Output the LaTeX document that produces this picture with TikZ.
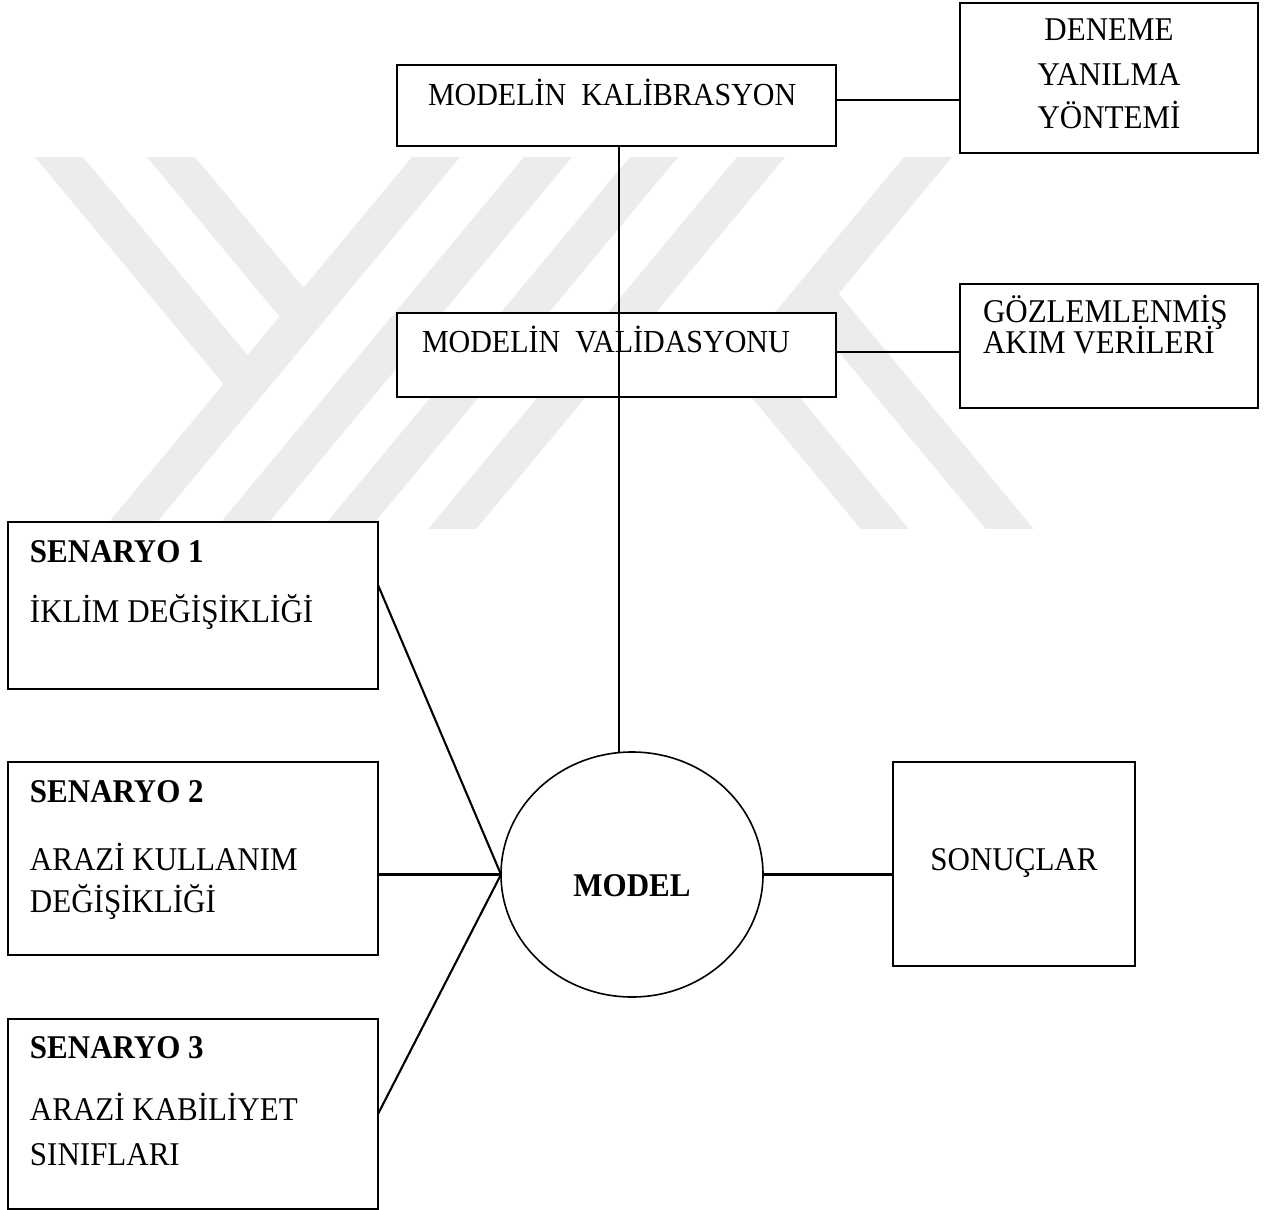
\documentclass[tikz,border=0pt]{standalone}
\usepackage{fontspec}
\usepackage{graphicx}
\setmainfont{Liberation Serif}
\usetikzlibrary{shapes.geometric}
\definecolor{wmgray}{RGB}{236,236,236}
\newcommand\tallt[1]{\scalebox{1}[1.07]{#1}}
\begin{document}
\begin{tikzpicture}[x=1pt,y=-1pt,
  box/.style={draw, fill=white, line width=2.1pt, inner sep=0pt, outer sep=0pt},
  lbl/.style={inner sep=0pt, outer sep=0pt, font=\fontsize{31}{37}\selectfont},
  blbl/.style={inner sep=0pt, outer sep=0pt, font=\fontsize{31}{37}\selectfont\bfseries},
  conn/.style={line width=2.1pt},
  wm/.style={line width=37pt, draw=wmgray, line join=miter}]
\useasboundingbox (0,0) rectangle (1278,1210);
% watermark
\begin{scope}
\clip (0,157) rectangle (1278,528);
\draw[wm] (460.9,127) -- (103.2,558);
\draw[wm] (572.9,127) -- (215.2,558);
\draw[wm] (678.9,127) -- (321.2,558);
\draw[wm] (785.9,127) -- (428.2,558);
\draw[wm] (34.1,127) -- (247.5,384.1);
\draw[wm] (146.1,127) -- (303.5,316.6);
\draw[wm] (952.9,127) -- (752,369) -- (908.9,558);
\draw[wm] (814.5,293.7) -- (1033.9,558);
\end{scope}
% boxes
\node[box, minimum width=439pt, minimum height=81pt] (kal) at (616.5,105.5) {};
\node[box, minimum width=298pt, minimum height=150pt] (den) at (1109,78) {};
\node[box, minimum width=439pt, minimum height=84pt] (val) at (616.5,355) {};
\node[box, minimum width=298pt, minimum height=124pt] (goz) at (1109,346) {};
\node[box, minimum width=370pt, minimum height=167pt] (sen1) at (193,605.5) {};
\node[box, minimum width=370pt, minimum height=193pt] (sen2) at (193,858.5) {};
\node[box, minimum width=370pt, minimum height=190pt] (sen3) at (193,1114) {};
\node[box, ellipse, line width=1.6pt, minimum width=262pt, minimum height=245pt] (mod) at (632,874.5) {};
\node[box, minimum width=242pt, minimum height=204pt] (son) at (1014,864) {};
% connectors
\draw[conn] ([yshift=5.5pt]kal.east) coordinate (k1) -- (k1 -| den.west);
\draw[conn] ([yshift=3pt]val.east) coordinate (v2) -- (v2 -| goz.west);
\draw[conn] ([xshift=2.5pt]kal.south) coordinate (v1) -- (v1 |- mod.north);
\draw[conn] ([yshift=20.5pt]sen1.east) -- (mod.west);
\draw[conn] (sen2.east |- mod.west) -- (mod.west);
\draw[conn] (sen3.east) -- (mod.west);
\draw[conn] (mod.east) -- (mod.east -| son.west);
% texts
\node[lbl, anchor=base west, font=\fontsize{30}{36}\selectfont] (kalt) at (428,105) {\tallt{MODELİN\ \ KALİBRASYON}};
\node[lbl, anchor=base west, font=\fontsize{30}{36}\selectfont] (valt) at (422,352) {\tallt{MODELİN\ \ VALİDASYONU}};
\node[lbl, anchor=base] (dent1) at (1109,40) {\tallt{DENEME}};
\node[lbl, anchor=base] (dent2) at (1109,85) {\tallt{YANILMA}};
\node[lbl, anchor=base] (dent3) at (1109,128) {\tallt{YÖNTEMİ}};
\node[lbl, anchor=base west] (gozt1) at (983,322) {\tallt{GÖZLEMLENMİŞ}};
\node[lbl, anchor=base west] (gozt2) at (983,353) {\tallt{AKIM VERİLERİ}};
\node[blbl, anchor=base west] (sen1a) at (30,562) {\tallt{SENARYO 1}};
\node[lbl, anchor=base west] (sen1b) at (30,622) {\tallt{İKLİM DEĞİŞİKLİĞİ}};
\node[blbl, anchor=base west] (sen2a) at (30,802) {\tallt{SENARYO 2}};
\node[lbl, anchor=base west] (sen2b) at (30,870) {\tallt{ARAZİ KULLANIM}};
\node[lbl, anchor=base west] (sen2c) at (30,912) {\tallt{DEĞİŞİKLİĞİ}};
\node[blbl, anchor=base west] (sen3a) at (30,1058) {\tallt{SENARYO 3}};
\node[lbl, anchor=base west] (sen3b) at (30,1120) {\tallt{ARAZİ KABİLİYET}};
\node[lbl, anchor=base west] (sen3c) at (30,1165) {\tallt{SINIFLARI}};
\node[blbl, anchor=base] (modt) at (632,896) {\tallt{MODEL}};
\node[lbl, anchor=base] (sont) at (1014,870) {\tallt{SONUÇLAR}};
\end{tikzpicture}
\end{document}
